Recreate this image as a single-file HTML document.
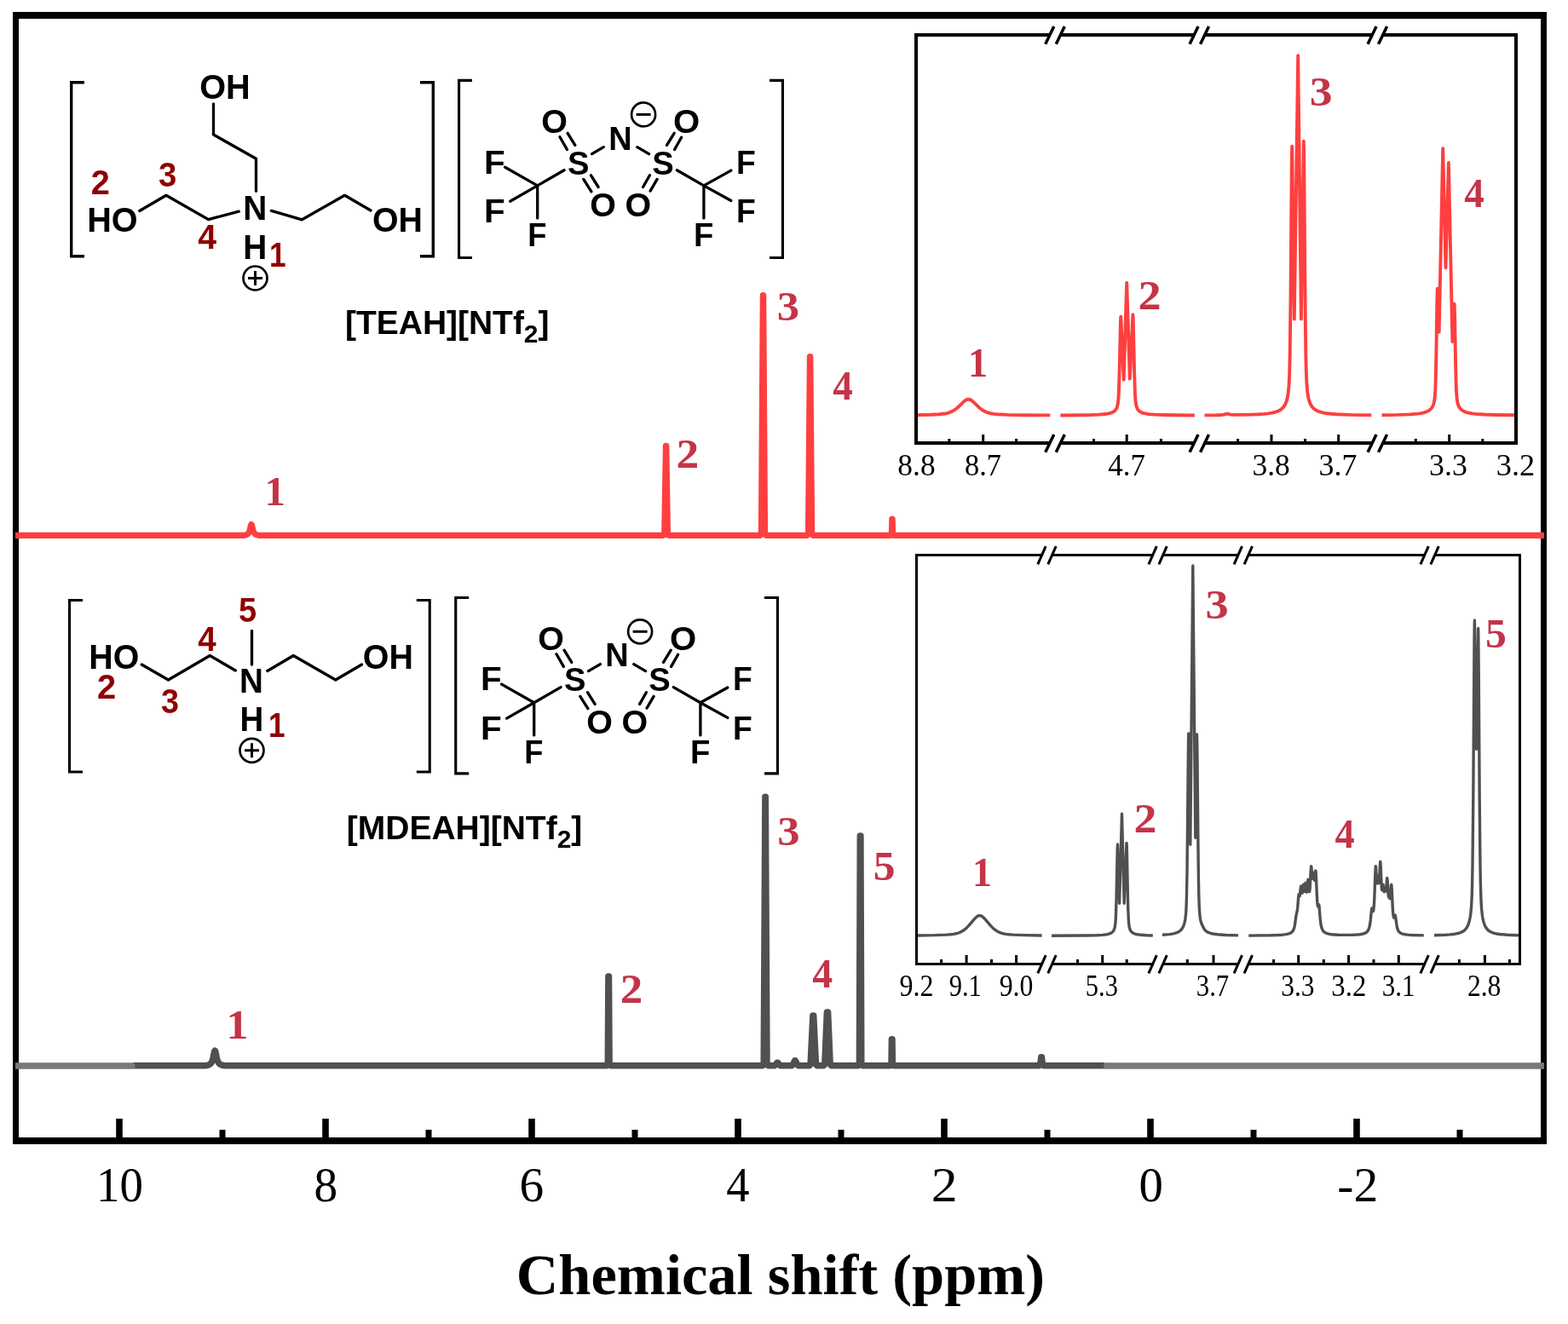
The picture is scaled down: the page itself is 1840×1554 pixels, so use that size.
<!DOCTYPE html>
<html lang="en">
<head>
<meta charset="utf-8">
<title>1H NMR spectra of [TEAH][NTf2] and [MDEAH][NTf2]</title>
<style>
html,body{margin:0;padding:0;background:#fff;}
body{width:1840px;height:1554px;overflow:hidden;}
svg{display:block;}
</style>
</head>
<body>
<svg width="1840" height="1554" viewBox="0 0 1840 1554">
<rect width="1840" height="1554" fill="#fff"/>
<path d="M15,14H1815V1343H15Z M22,22V1335H1808V22Z" fill="#000" fill-rule="evenodd"/>
<g fill="#000"><rect x="1588.2" y="1313" width="7.6" height="23"/><rect x="1346.2" y="1313" width="7.6" height="23"/><rect x="1104.2" y="1313" width="7.6" height="23"/><rect x="862.2" y="1313" width="7.6" height="23"/><rect x="620.2" y="1313" width="7.6" height="23"/><rect x="378.2" y="1313" width="7.6" height="23"/><rect x="136.2" y="1313" width="7.6" height="23"/><rect x="1709.5" y="1326" width="7" height="10"/><rect x="1467.5" y="1326" width="7" height="10"/><rect x="1225.5" y="1326" width="7" height="10"/><rect x="983.5" y="1326" width="7" height="10"/><rect x="741.5" y="1326" width="7" height="10"/><rect x="499.5" y="1326" width="7" height="10"/><rect x="257.5" y="1326" width="7" height="10"/></g>
<g font-family="'Liberation Serif', 'Times New Roman', serif" font-size="56" fill="#000"><text transform="translate(113.1,1409.74) scale(0.98,1)">10</text><text transform="translate(368.53,1409.74) scale(0.987,1)">8</text><text transform="translate(609.46,1409.74) scale(1.023,1)">6</text><text transform="translate(852.21,1410) scale(0.975,1)">4</text><text transform="translate(1092.72,1410) scale(1.103,1)">2</text><text transform="translate(1336.47,1409.74) scale(1.013,1)">0</text><text transform="translate(1569.34,1410) scale(1.028,1)">-2</text></g>
<text x="916" y="1519" font-family="'Liberation Serif', 'Times New Roman', serif" font-weight="bold" font-size="68.5" text-anchor="middle" fill="#000">Chemical shift (ppm)</text>
<path d="M18,628.4 L285.5,628.4 L288,628 L289.5,627.49 L290.5,626.89 L291,626.45 L291.5,625.86 L292,625.08 L292.5,624 L293,622.55 L294.5,616.37 L295,615.5 L295.5,616.37 L297,622.55 L297.5,624 L298,625.08 L298.5,625.86 L299,626.45 L299.5,626.89 L300.5,627.49 L302,628 L304.5,628.4 L778.2,628.4 L779.7,626.9 L781.4,523.2 L781.8,523.2 L783.5,626.9 L785,628.4 L891.9,628.4 L893.4,626.9 L895.3,346.5 L895.7,346.5 L897.6,626.9 L899.1,628.4 L947,628.4 L948.5,626.9 L950.4,418.5 L950.8,418.5 L952.7,626.9 L954.2,628.4 L1044.9,628.4 L1046.4,626.9 L1046.8,609.3 L1047.2,609.3 L1047.6,626.9 L1049.1,628.4 L1812,628.4" fill="none" stroke="#FE3F3F" stroke-width="7.1" stroke-linejoin="round" stroke-linecap="butt"/>
<path d="M1295.5,1251 H1812" fill="none" stroke="#787878" stroke-width="7.6"/>
<path d="M156,1250.8 L240.7,1250.8 L242.2,1250.58 L244.2,1250.1 L245.7,1249.46 L246.7,1248.77 L247.2,1248.29 L248.2,1246.93 L248.7,1245.96 L249.2,1244.69 L249.7,1243.07 L250.2,1241.03 L251.2,1236.03 L251.7,1233.93 L252.2,1233.1 L252.7,1233.93 L253.2,1236.03 L254.2,1241.03 L254.7,1243.07 L255.2,1244.69 L255.7,1245.96 L256.2,1246.93 L257.2,1248.29 L257.7,1248.77 L258.7,1249.46 L259.7,1249.93 L260.7,1250.25 L262.2,1250.58 L263.7,1250.8 L711.8,1250.8 L713.3,1249.3 L713.9,1146 L714.5,1146 L715.1,1249.3 L716.6,1250.8 L894.7,1250.8 L896.2,1249.3 L897.9,935.2 L898.3,935.2 L900,1249.3 L901.5,1250.8 L908.8,1250.8 L910.3,1249.3 L912,1247.3 L912.6,1247.3 L914.3,1249.3 L915.8,1250.8 L929.1,1250.8 L930.6,1249.3 L932.7,1244.7 L933.3,1244.7 L935.4,1249.3 L936.9,1250.8 L949.6,1250.8 L951.1,1249.3 L953.9,1191.9 L954.7,1191.9 L957.5,1249.3 L959,1250.8 L966.3,1250.8 L967.8,1249.3 L970.4,1188 L971.6,1188 L974.2,1249.3 L975.7,1250.8 L1006.9,1250.8 L1008.4,1249.3 L1009.3,980.9 L1009.9,980.9 L1010.8,1249.3 L1012.3,1250.8 L1044.5,1250.8 L1046,1249.3 L1046.4,1219.7 L1047,1219.7 L1047.4,1249.3 L1048.9,1250.8 L1219.3,1250.8 L1220.8,1249.3 L1221.8,1240.7 L1222.4,1240.7 L1223.4,1249.3 L1224.9,1250.8 L1295.7,1250.8" fill="none" stroke="#505050" stroke-width="7.5" stroke-linejoin="round" stroke-linecap="butt"/>
<path d="M18,1247.2 H154.8 a3.8,3.8 0 0 1 0,7.6 H18 Z" fill="#787878"/>
<g font-family="'Liberation Serif', 'Times New Roman', serif" font-weight="bold" font-size="48.5" fill="#C43448"><text transform="translate(310.58,592.5) scale(1.01,1)">1</text><text transform="translate(793.53,549) scale(1.103,1)">2</text><text transform="translate(911.63,375.62) scale(1.085,1)">3</text><text transform="translate(977.21,468.7) scale(0.97,1)">4</text><text transform="translate(265.44,1218.9) scale(1.072,1)">1</text><text transform="translate(727.85,1176.5) scale(1.093,1)">2</text><text transform="translate(912.23,992.12) scale(1.085,1)">3</text><text transform="translate(953.2,1158.9) scale(0.987,1)">4</text><text transform="translate(1024.64,1033.02) scale(1.064,1)">5</text><text transform="translate(1136.1,441.8) scale(0.954,1)">1</text><text transform="translate(1335.5,363) scale(1.118,1)">2</text><text transform="translate(1536.69,123.61) scale(1.104,1)">3</text><text transform="translate(1718.31,242.7) scale(0.97,1)">4</text><text transform="translate(1141.1,1039.8) scale(0.95,1)">1</text><text transform="translate(1330.51,977.2) scale(1.113,1)">2</text><text transform="translate(1414.6,726.22) scale(1.12,1)">3</text><text transform="translate(1566.62,995.2) scale(0.956,1)">4</text><text transform="translate(1743.01,759.51) scale(1.025,1)">5</text></g>
<path d="M1075,41 V520 M1779,41 V520" stroke="#000" stroke-width="4" fill="none" stroke-linecap="square"/><path d="M1073,41 H1231.75 M1073,520 H1231.75 M1244.25,41 H1401.05 M1244.25,520 H1401.05 M1413.55,41 H1610.05 M1413.55,520 H1610.05 M1622.55,41 H1781 M1622.55,520 H1781" stroke="#000" stroke-width="4" fill="none"/><g stroke="#000" stroke-width="3.5" stroke-linecap="butt"><line x1="1226.75" y1="51.7" x2="1236.75" y2="30.9"/><line x1="1239.25" y1="51.7" x2="1249.25" y2="30.9"/><line x1="1226.75" y1="530.7" x2="1236.75" y2="509.9"/><line x1="1239.25" y1="530.7" x2="1249.25" y2="509.9"/><line x1="1396.05" y1="51.7" x2="1406.05" y2="30.9"/><line x1="1408.55" y1="51.7" x2="1418.55" y2="30.9"/><line x1="1396.05" y1="530.7" x2="1406.05" y2="509.9"/><line x1="1408.55" y1="530.7" x2="1418.55" y2="509.9"/><line x1="1605.05" y1="51.7" x2="1615.05" y2="30.9"/><line x1="1617.55" y1="51.7" x2="1627.55" y2="30.9"/><line x1="1605.05" y1="530.7" x2="1615.05" y2="509.9"/><line x1="1617.55" y1="530.7" x2="1627.55" y2="509.9"/></g><path d="M1153.7,520 v-10 M1322.2,520 v-10 M1492,520 v-10 M1570.7,520 v-10 M1700.7,520 v-10 M1113.9,520 v-5 M1192.6,520 v-5 M1283.5,520 v-5 M1362.4,520 v-5 M1452.6,520 v-5 M1531.5,520 v-5 M1661.3,520 v-5 M1739.8,520 v-5" stroke="#000" stroke-width="3" fill="none"/><g font-family="'Liberation Serif', 'Times New Roman', serif" font-size="36" fill="#000"><text transform="translate(1053.37,558.06) scale(0.983,1)">8.8</text><text transform="translate(1132.01,558.06) scale(0.956,1)">8.7</text><text transform="translate(1300.2,558.06) scale(0.97,1)">4.7</text><text transform="translate(1469.42,558.06) scale(0.985,1)">3.8</text><text transform="translate(1547.6,558.06) scale(0.995,1)">3.7</text><text transform="translate(1677,558.06) scale(0.996,1)">3.3</text><text transform="translate(1755.87,558.06) scale(1.009,1)">3.2</text></g>
<path d="M1077,487.13 L1091.8,486.79 L1101.8,486.29 L1108.4,485.55 L1111,485.04 L1113.4,484.39 L1117.2,482.88 L1120.6,480.88 L1122.4,479.54 L1124.4,477.83 L1130.2,472.14 L1132.2,470.38 L1133.4,469.55 L1134.4,469.03 L1135.4,468.71 L1136.4,468.6 L1137.4,468.71 L1138.4,469.03 L1139.4,469.55 L1140.6,470.38 L1142.6,472.14 L1148.8,478.19 L1151,480.01 L1153.2,481.54 L1155.4,482.78 L1157.8,483.84 L1160.2,484.63 L1163,485.29 L1166.4,485.84 L1170.6,486.26 L1182.6,486.85 L1201.8,487.21 L1232.4,487.42 M1244.3,487.43 L1265.5,487.28 L1279.7,487.04 L1289.7,486.64 L1296.7,486.05 L1301.9,485.15 L1303.9,484.56 L1305.5,483.91 L1306.9,483.12 L1308.1,482.19 L1309.1,481.1 L1310.1,479.55 L1311.1,477 L1311.9,472.92 L1312.5,466.53 L1312.9,459.22 L1313.7,433.59 L1314.9,378.71 L1315.1,373.59 L1315.3,371.6 L1318.7,445.6 L1322.2,331.9 L1325.8,444.6 L1329.4,369.1 L1329.7,373.37 L1329.9,379.96 L1331.1,436.77 L1331.9,461.02 L1332.3,467.75 L1332.9,473.58 L1333.5,476.65 L1334.5,479.39 L1335.3,480.75 L1336.3,481.95 L1337.5,482.97 L1339.1,483.91 L1340.9,484.63 L1342.9,485.2 L1348.1,486.08 L1355.3,486.67 L1365.3,487.05 L1379.9,487.29 L1401.9,487.44 M1413.5,487.35 L1426.7,487.22 L1432.9,487.01 L1436.1,486.64 L1439.9,485.6 L1440.7,485.68 L1444.1,486.59 L1447.7,486.9 L1456.5,486.92 L1469.1,486.62 L1476.7,486.29 L1482.9,485.87 L1488.1,485.32 L1492.5,484.63 L1496.3,483.74 L1499.5,482.63 L1502.3,481.18 L1504.5,479.53 L1506.3,477.6 L1507.9,475.13 L1509.3,471.96 L1510.3,468.68 L1511.1,465 L1511.7,461.14 L1512.5,452.68 L1513.1,440.23 L1513.7,415.93 L1514.5,351.47 L1515.7,200.54 L1515.9,183.01 L1516.2,171.6 L1518.8,374.6 L1523.2,65.2 L1526.9,374.6 L1529.8,165.6 L1530.1,177.29 L1530.3,195.18 L1531.5,348.95 L1532.3,414.61 L1532.7,432.85 L1533.3,448.71 L1534.1,459.03 L1535.1,465.7 L1536.1,469.87 L1537.1,472.8 L1538.3,475.34 L1539.9,477.74 L1541.7,479.63 L1543.9,481.26 L1546.5,482.59 L1549.7,483.72 L1553.3,484.58 L1557.5,485.27 L1562.5,485.81 L1568.5,486.25 L1584.7,486.86 L1609.3,487.22 M1621.5,487.21 L1640.9,486.9 L1654.3,486.38 L1663.7,485.59 L1667.3,485.06 L1670.5,484.38 L1673.3,483.53 L1675.5,482.57 L1677.3,481.48 L1678.9,480.12 L1680.3,478.4 L1681.3,476.64 L1682.1,474.68 L1682.9,471.76 L1683.5,468.1 L1683.9,464.02 L1684.3,457.4 L1684.7,446.73 L1685.3,420.1 L1686.3,355.06 L1686.7,339.58 L1686.8,338.6 L1688.7,389.6 L1693.2,174.1 L1696.5,314.3 L1699.9,191 L1704.4,401 L1706.6,356.6 L1706.7,357.46 L1707.1,370.98 L1708.1,427.76 L1708.7,451.03 L1709.1,460.36 L1709.5,466.16 L1710.1,471.04 L1710.7,473.76 L1711.5,476.08 L1712.5,478.04 L1713.7,479.68 L1715.1,481.03 L1716.9,482.26 L1718.9,483.23 L1721.3,484.06 L1724.3,484.79 L1727.7,485.38 L1731.5,485.83 L1741.7,486.54 L1755.9,486.99 L1776.9,487.26" fill="none" stroke="#FE3F3F" stroke-width="3.9" stroke-linejoin="round"/>
<path d="M1075.5,651.5 V1131.5 M1783.5,651.5 V1131.5" stroke="#000" stroke-width="3" fill="none" stroke-linecap="square"/><path d="M1074,651.5 H1222.5 M1074,1131.5 H1222.5 M1234.5,651.5 H1352.6 M1234.5,1131.5 H1352.6 M1364.6,651.5 H1452.8 M1364.6,1131.5 H1452.8 M1464.8,651.5 H1671.6 M1464.8,1131.5 H1671.6 M1683.6,651.5 H1785 M1683.6,1131.5 H1785" stroke="#000" stroke-width="3" fill="none"/><g stroke="#000" stroke-width="3" stroke-linecap="butt"><line x1="1217.8" y1="662.4" x2="1227.2" y2="641.2"/><line x1="1229.8" y1="662.4" x2="1239.2" y2="641.2"/><line x1="1217.8" y1="1142.4" x2="1227.2" y2="1121.2"/><line x1="1229.8" y1="1142.4" x2="1239.2" y2="1121.2"/><line x1="1347.9" y1="662.4" x2="1357.3" y2="641.2"/><line x1="1359.9" y1="662.4" x2="1369.3" y2="641.2"/><line x1="1347.9" y1="1142.4" x2="1357.3" y2="1121.2"/><line x1="1359.9" y1="1142.4" x2="1369.3" y2="1121.2"/><line x1="1448.1" y1="662.4" x2="1457.5" y2="641.2"/><line x1="1460.1" y1="662.4" x2="1469.5" y2="641.2"/><line x1="1448.1" y1="1142.4" x2="1457.5" y2="1121.2"/><line x1="1460.1" y1="1142.4" x2="1469.5" y2="1121.2"/><line x1="1666.9" y1="662.4" x2="1676.3" y2="641.2"/><line x1="1678.9" y1="662.4" x2="1688.3" y2="641.2"/><line x1="1666.9" y1="1142.4" x2="1676.3" y2="1121.2"/><line x1="1678.9" y1="1142.4" x2="1688.3" y2="1121.2"/></g><path d="M1134.1,1131.5 v-10.4 M1192.6,1131.5 v-10.4 M1293.7,1131.5 v-10.4 M1424,1131.5 v-10.4 M1523.7,1131.5 v-10.4 M1582.6,1131.5 v-10.4 M1641.3,1131.5 v-10.4 M1742.4,1131.5 v-10.4 M1104.6,1131.5 v-5.4 M1163.5,1131.5 v-5.4 M1264.6,1131.5 v-5.4 M1322.2,1131.5 v-5.4 M1393.3,1131.5 v-5.4 M1494.6,1131.5 v-5.4 M1553.3,1131.5 v-5.4 M1612,1131.5 v-5.4 M1712.4,1131.5 v-5.4 M1771.5,1131.5 v-5.4" stroke="#000" stroke-width="3" fill="none"/><g font-family="'Liberation Serif', 'Times New Roman', serif" font-size="36" fill="#000"><text transform="translate(1055.56,1168.96) scale(0.889,1)">9.2</text><text transform="translate(1113.71,1168.96) scale(0.847,1)">9.1</text><text transform="translate(1172.67,1168.96) scale(0.883,1)">9.0</text><text transform="translate(1273.85,1168.96) scale(0.846,1)">5.3</text><text transform="translate(1403.74,1168.96) scale(0.855,1)">3.7</text><text transform="translate(1503.31,1168.96) scale(0.872,1)">3.3</text><text transform="translate(1562.34,1168.96) scale(0.91,1)">3.2</text><text transform="translate(1621.83,1168.96) scale(0.861,1)">3.1</text><text transform="translate(1721.88,1168.96) scale(0.878,1)">2.8</text></g>
<path d="M1077,1097.94 L1097.4,1097.63 L1110.8,1097.12 L1115.2,1096.78 L1118.8,1096.34 L1121.8,1095.78 L1124.4,1095.06 L1126.6,1094.23 L1128.6,1093.26 L1130.6,1092.03 L1132.4,1090.69 L1134.4,1088.92 L1136.6,1086.67 L1142.8,1079.31 L1145,1076.97 L1146.2,1075.95 L1147.4,1075.18 L1148.6,1074.72 L1149.6,1074.6 L1150.6,1074.72 L1151.8,1075.18 L1153,1075.95 L1154.2,1076.97 L1156.4,1079.31 L1162.6,1086.67 L1164.8,1088.92 L1166.8,1090.69 L1168.8,1092.16 L1170.8,1093.36 L1172.8,1094.32 L1175,1095.13 L1177.6,1095.82 L1180.6,1096.37 L1184.2,1096.8 L1188.6,1097.13 L1202,1097.63 L1222.6,1097.95 M1234,1098.23 L1276,1098.01 L1286.6,1097.76 L1293.8,1097.36 L1299,1096.71 L1301,1096.26 L1302.6,1095.72 L1304,1095.04 L1305,1094.35 L1306,1093.37 L1306.8,1092.24 L1307.8,1089.94 L1308.4,1087.38 L1309,1082.11 L1309.4,1075.32 L1310,1056.61 L1311.2,996.6 L1311.5,991 L1313.6,1060.3 L1316.5,955.3 L1319.2,1060.3 L1322,989.4 L1322.2,992.06 L1322.4,998.88 L1323.4,1051.78 L1323.8,1067.21 L1324.4,1080.74 L1324.8,1085.33 L1325.4,1088.96 L1326.2,1091.37 L1326.8,1092.5 L1327.6,1093.57 L1328.4,1094.35 L1329.4,1095.05 L1331.6,1096.03 L1334.8,1096.79 L1339,1097.32 L1344.8,1097.68 L1352.8,1097.93 M1364,1097.29 L1372.2,1096.61 L1375.4,1096.14 L1378,1095.6 L1380.2,1094.96 L1382.2,1094.15 L1384,1093.13 L1385.4,1092.02 L1386.6,1090.71 L1387.8,1088.89 L1388.8,1086.8 L1389.6,1084.56 L1390.2,1082.33 L1390.8,1079.26 L1391.6,1072.21 L1392,1065.59 L1392.4,1054.56 L1393,1023.63 L1394.4,880.54 L1394.6,866.69 L1394.8,861 L1396.8,991.3 L1399.8,664 L1402.8,983.3 L1404.5,862 L1404.8,873.82 L1405,890.84 L1405.8,980.17 L1406.4,1030.09 L1406.8,1050.39 L1407.2,1062.83 L1407.6,1070.26 L1408.2,1076.49 L1408.8,1080.07 L1409.6,1083.06 L1410.4,1085.05 L1412.4,1089.14 L1413.4,1090.82 L1414.6,1092.26 L1415.8,1093.24 L1417.4,1094.16 L1419.6,1095.04 L1422.2,1095.75 L1425.2,1096.31 L1428.8,1096.77 L1438.6,1097.44 L1453,1097.84 M1465.2,1098.1 L1491.4,1097.81 L1499.2,1097.55 L1505,1097.18 L1509.2,1096.66 L1512.4,1095.91 L1514.6,1094.97 L1515.6,1094.29 L1516.4,1093.55 L1517.4,1092.2 L1518.2,1090.54 L1518.8,1088.69 L1519.4,1086.03 L1521,1074.46 L1522.4,1068.1 L1522.8,1064.4 L1523.6,1053.76 L1524,1050.3 L1524.2,1049.82 L1524.4,1050.06 L1525,1051.84 L1525.2,1051.72 L1525.6,1049.47 L1526.2,1042.79 L1526.6,1040.3 L1526.8,1040.67 L1527,1041.99 L1527.6,1047.27 L1527.8,1048.13 L1528,1048.2 L1528.4,1045.94 L1529,1039.71 L1529.2,1038.51 L1529.4,1038.38 L1529.6,1039.32 L1530.2,1044.74 L1530.4,1045.95 L1530.6,1046.4 L1530.8,1046 L1531,1044.79 L1531.6,1038.47 L1531.8,1036.87 L1532,1036.3 L1532.2,1036.94 L1532.4,1038.63 L1533,1045.3 L1533.2,1046.66 L1533.4,1047.22 L1533.6,1046.88 L1533.8,1045.65 L1534.6,1035.14 L1534.8,1033.09 L1535,1032.3 L1535.2,1032.96 L1535.4,1034.88 L1536.2,1045.06 L1536.4,1046.28 L1536.6,1046.61 L1536.8,1046.04 L1537.2,1042.12 L1538.2,1021.44 L1538.6,1016.8 L1538.8,1017.06 L1539,1018.86 L1539.6,1027.64 L1540,1031.01 L1540.2,1031.19 L1540.4,1030.41 L1541,1025.31 L1541.2,1024.37 L1541.4,1024.53 L1542.2,1031.9 L1542.4,1033.05 L1542.6,1033.25 L1543,1030.72 L1543.6,1023.37 L1543.8,1022.06 L1544,1022.3 L1544.4,1027.97 L1545.4,1052.45 L1546,1061.16 L1546.2,1062.71 L1546.4,1063.64 L1546.6,1064 L1546.8,1063.86 L1547.4,1062 L1547.6,1061.8 L1547.8,1062.3 L1548.2,1065.7 L1549.2,1078.48 L1550,1084.94 L1550.6,1087.84 L1551.2,1089.81 L1552,1091.58 L1552.8,1092.77 L1553.8,1093.81 L1555,1094.66 L1556.4,1095.34 L1558.2,1095.93 L1560.2,1096.37 L1562.8,1096.75 L1569.6,1097.23 L1581.8,1097.4 L1587.6,1097.28 L1592.4,1097.04 L1595.8,1096.71 L1598.6,1096.25 L1600.8,1095.65 L1602.6,1094.86 L1604,1093.85 L1605.2,1092.46 L1606.2,1090.56 L1607,1088.07 L1608,1082.55 L1609.4,1068.72 L1609.8,1066.3 L1610,1066.01 L1610.2,1066.27 L1610.8,1068.55 L1611.2,1069.51 L1611.4,1069.48 L1611.6,1069.04 L1611.8,1068.14 L1612.4,1062.29 L1612.8,1055.14 L1613.8,1026.09 L1614.2,1017.57 L1614.4,1016.65 L1614.6,1018.1 L1615.4,1033.07 L1615.8,1036.78 L1616,1036.75 L1616.2,1035.54 L1616.8,1029.07 L1617,1028.3 L1617.2,1029.03 L1617.8,1035.4 L1618,1036.61 L1618.2,1036.65 L1618.6,1032.89 L1619.4,1015.39 L1619.6,1012.28 L1619.8,1011.3 L1620,1012.76 L1620.2,1016.36 L1621,1036.65 L1621.4,1042.78 L1621.6,1044.25 L1621.8,1044.71 L1622,1044.27 L1622.8,1038.65 L1623,1038.3 L1623.2,1038.95 L1623.8,1044.3 L1624.2,1046.63 L1624.4,1046.73 L1624.6,1046.17 L1625.2,1043.42 L1625.4,1043.36 L1626,1045.65 L1626.2,1045.98 L1626.4,1045.55 L1626.8,1042.08 L1627.4,1033.17 L1627.6,1031.15 L1627.8,1030.6 L1628.2,1034.41 L1629.2,1050.78 L1629.6,1053.01 L1629.8,1053.24 L1630.2,1053.22 L1630.4,1053.45 L1631,1054.64 L1631.2,1054.38 L1631.4,1053.44 L1631.6,1051.73 L1632.4,1040.35 L1632.6,1038.54 L1632.8,1038.3 L1633.2,1043.06 L1634.2,1064.75 L1634.6,1070.58 L1635,1074.37 L1635.4,1076.48 L1635.6,1076.98 L1635.8,1077.16 L1636,1077.03 L1636.2,1076.64 L1637,1074.2 L1637.2,1074.14 L1637.4,1074.6 L1639.2,1087.38 L1640,1090.53 L1641,1092.74 L1642.2,1094.22 L1643.6,1095.22 L1645.6,1096.05 L1648.4,1096.7 L1652,1097.16 L1656.6,1097.49 L1670.8,1097.91 M1683,1097.76 L1696.6,1097.27 L1701.6,1096.92 L1705.6,1096.49 L1709,1095.94 L1712,1095.23 L1714.4,1094.39 L1716.6,1093.3 L1718.4,1092.02 L1720,1090.42 L1721.4,1088.45 L1722.6,1086.1 L1723.6,1083.39 L1724.4,1080.46 L1725.2,1076.48 L1725.8,1072.38 L1726.6,1063.82 L1727.2,1051.77 L1727.6,1037.84 L1728,1015.83 L1728.8,935.54 L1730,753.4 L1730.2,735.49 L1730.4,728 L1732.5,879.3 L1734.6,737.5 L1734.8,744.86 L1735.2,787.53 L1736.2,939.46 L1737,1017.54 L1737.4,1038.96 L1738,1057.32 L1738.6,1066.9 L1739.4,1074.17 L1740,1077.82 L1740.8,1081.43 L1741.8,1084.68 L1742.8,1087.05 L1744,1089.14 L1745.4,1090.91 L1747,1092.37 L1748.8,1093.55 L1751,1094.57 L1753.4,1095.35 L1756.4,1096.02 L1759.8,1096.54 L1768.8,1097.3 L1782,1097.76" fill="none" stroke="#505050" stroke-width="3.4" stroke-linejoin="round"/>
<path d="M99,96.7 H83.7 V300.8 H99" fill="none" stroke="#000" stroke-width="3.4" stroke-linejoin="miter" stroke-linecap="butt"/><path d="M493,96.7 H508.3 V300.8 H493" fill="none" stroke="#000" stroke-width="3.4" stroke-linejoin="miter" stroke-linecap="butt"/>
<path d="M250.5,122 L250.5,158 L300.5,186.3 L300.5,224.3 M163.8,247.5 L195,229.3 L244.5,257.6 L280.3,248.2 M318.4,247.4 L354.3,257.8 L404.5,229.3 L435,247" fill="none" stroke="#000" stroke-width="3.3" stroke-linecap="round" stroke-linejoin="round"/>
<g font-family="'Liberation Sans', Arial, sans-serif" font-weight="bold" font-size="41.5" fill="#000"><text transform="translate(234.21,116.18) scale(0.957,1)">OH</text><text transform="translate(102.22,272.28) scale(0.955,1)">HO</text><text transform="translate(285.28,258.2) scale(0.935,1)">N</text><text transform="translate(285.28,304.1) scale(0.935,1)">H</text><text transform="translate(437.03,272.28) scale(0.948,1)">OH</text></g>
<circle cx="299.5" cy="326.5" r="14" fill="none" stroke="#000" stroke-width="2.7"/><path d="M291,326.5 h17 M299.5,318 v17" stroke="#000" stroke-width="3" fill="none"/>
<g font-family="'Liberation Sans', Arial, sans-serif" font-weight="bold" font-size="41.5" fill="#8E0000"><text transform="translate(106.71,228.1) scale(0.959,1)">2</text><text transform="translate(186.04,218.88) scale(0.925,1)">3</text><text transform="translate(232.31,292.3) scale(0.946,1)">4</text><text transform="translate(316.09,312.9) scale(0.85,1)">1</text></g>
<path d="M554,94.35 H538.55 V302.45 H554" fill="none" stroke="#000" stroke-width="3.1" stroke-linejoin="miter" stroke-linecap="butt"/><path d="M903,94.35 H918.45 V302.45 H903" fill="none" stroke="#000" stroke-width="3.1" stroke-linejoin="miter" stroke-linecap="butt"/>
<path d="M592.6,196.2 L630.7,217.9 M598.7,236.2 L630.7,217.9 M630.7,217.9 L630.7,256 M630.7,217.9 L662,199.7 M694.6,180.7 L708.3,172.7 M657,160.8 L665.4,175.5 M666.1,156.3 L674.8,170.4 M684.8,210.4 L693.9,224.8 M693.5,205.8 L702.1,219.5 M747.8,172.7 L761.5,180.7 M791.2,156.3 L782.5,170.4 M799.6,161.3 L791.6,175.5 M762.4,205.8 L754.6,219.5 M771.1,210.4 L763.1,224.1 M794.4,199.7 L825.9,217.9 M825.9,217.9 L857.8,200.1 M825.9,217.9 L857.8,235.5 M825.9,217.9 L825.9,256" fill="none" stroke="#000" stroke-width="3.3" stroke-linecap="round" stroke-linejoin="round"/><g font-family="'Liberation Sans', Arial, sans-serif" font-weight="bold" font-size="39" fill="#000"><text transform="translate(567.97,203.5) scale(1.036,1)">F</text><text transform="translate(567.97,260.6) scale(1.036,1)">F</text><text transform="translate(619.15,288.7) scale(0.93,1)">F</text><text transform="translate(635.32,156.11) scale(1.011,1)">O</text><text transform="translate(666.06,204.51) scale(0.978,1)">S</text><text transform="translate(714.24,175.5) scale(0.973,1)">N</text><text transform="translate(692.32,253.61) scale(1.011,1)">O</text><text transform="translate(733.42,253.61) scale(1.011,1)">O</text><text transform="translate(765.36,204.51) scale(0.978,1)">S</text><text transform="translate(789.99,156.11) scale(1.029,1)">O</text><text transform="translate(863.99,203.5) scale(0.955,1)">F</text><text transform="translate(863.99,260.6) scale(0.955,1)">F</text><text transform="translate(814.12,288.7) scale(0.98,1)">F</text></g><circle cx="755.1" cy="134.4" r="14" fill="none" stroke="#000" stroke-width="2.7"/><path d="M746.6,134.4 h17" stroke="#000" stroke-width="3" fill="none"/>
<text x="405" y="391.8" font-family="'Liberation Sans', Arial, sans-serif" font-weight="bold" font-size="39" fill="#000" textLength="239.5" lengthAdjust="spacing">[TEAH][NTf<tspan font-size="30" dy="10">2</tspan><tspan dy="-10">]</tspan></text>
<path d="M97,704.55 H81.55 V905.95 H97" fill="none" stroke="#000" stroke-width="3.1" stroke-linejoin="miter" stroke-linecap="butt"/><path d="M488.8,704.55 H504.25 V905.95 H488.8" fill="none" stroke="#000" stroke-width="3.1" stroke-linejoin="miter" stroke-linecap="butt"/>
<path d="M166.3,780 L197.5,798 L246.3,769.5 L276.3,787 M295.5,740.5 L295.5,780 M313.8,787.5 L344.3,769.5 L393.8,798 L424.5,780" fill="none" stroke="#000" stroke-width="3.3" stroke-linecap="round" stroke-linejoin="round"/>
<g font-family="'Liberation Sans', Arial, sans-serif" font-weight="bold" font-size="41.5" fill="#000"><text transform="translate(104.35,784.59) scale(0.947,1)">HO</text><text transform="translate(281.09,813) scale(0.931,1)">N</text><text transform="translate(281.4,858) scale(0.927,1)">H</text><text transform="translate(425.72,784.59) scale(0.95,1)">OH</text></g>
<circle cx="295.5" cy="880.8" r="14" fill="none" stroke="#000" stroke-width="2.7"/><path d="M287,880.8 h17 M295.5,872.3 v17" stroke="#000" stroke-width="3" fill="none"/>
<g font-family="'Liberation Sans', Arial, sans-serif" font-weight="bold" font-size="41.5" fill="#8E0000"><text transform="translate(280.05,729.59) scale(0.92,1)">5</text><text transform="translate(232.22,764) scale(0.928,1)">4</text><text transform="translate(114,820.3) scale(0.964,1)">2</text><text transform="translate(188.95,836.98) scale(0.911,1)">3</text><text transform="translate(315.09,864.8) scale(0.85,1)">1</text></g>
<path d="M550.2,701.55 H534.75 V907.85 H550.2" fill="none" stroke="#000" stroke-width="3.1" stroke-linejoin="miter" stroke-linecap="butt"/><path d="M897,701.55 H912.45 V907.85 H897" fill="none" stroke="#000" stroke-width="3.1" stroke-linejoin="miter" stroke-linecap="butt"/>
<path d="M588.6,803.1 L626.7,824.8 M594.7,843.1 L626.7,824.8 M626.7,824.8 L626.7,862.9 M626.7,824.8 L658,806.6 M690.6,787.6 L704.3,779.6 M653,767.7 L661.4,782.4 M662.1,763.2 L670.8,777.3 M680.8,817.3 L689.9,831.7 M689.5,812.7 L698.1,826.4 M743.8,779.6 L757.5,787.6 M787.2,763.2 L778.5,777.3 M795.6,768.2 L787.6,782.4 M758.4,812.7 L750.6,826.4 M767.1,817.3 L759.1,831 M790.4,806.6 L821.9,824.8 M821.9,824.8 L853.8,807 M821.9,824.8 L853.8,842.4 M821.9,824.8 L821.9,862.9" fill="none" stroke="#000" stroke-width="3.3" stroke-linecap="round" stroke-linejoin="round"/><g font-family="'Liberation Sans', Arial, sans-serif" font-weight="bold" font-size="39" fill="#000"><text transform="translate(563.97,810.4) scale(1.036,1)">F</text><text transform="translate(563.97,867.5) scale(1.036,1)">F</text><text transform="translate(615.15,895.6) scale(0.93,1)">F</text><text transform="translate(631.32,763.01) scale(1.011,1)">O</text><text transform="translate(662.06,811.41) scale(0.978,1)">S</text><text transform="translate(710.24,782.4) scale(0.973,1)">N</text><text transform="translate(688.32,860.51) scale(1.011,1)">O</text><text transform="translate(729.42,860.51) scale(1.011,1)">O</text><text transform="translate(761.36,811.41) scale(0.978,1)">S</text><text transform="translate(785.99,763.01) scale(1.029,1)">O</text><text transform="translate(859.99,810.4) scale(0.955,1)">F</text><text transform="translate(859.99,867.5) scale(0.955,1)">F</text><text transform="translate(810.12,895.6) scale(0.98,1)">F</text></g><circle cx="751.1" cy="741.3" r="14" fill="none" stroke="#000" stroke-width="2.7"/><path d="M742.6,741.3 h17" stroke="#000" stroke-width="3" fill="none"/>
<text x="406.8" y="984.8" font-family="'Liberation Sans', Arial, sans-serif" font-weight="bold" font-size="39" fill="#000" textLength="276.5" lengthAdjust="spacing">[MDEAH][NTf<tspan font-size="30" dy="10">2</tspan><tspan dy="-10">]</tspan></text>
</svg>
</body>
</html>
